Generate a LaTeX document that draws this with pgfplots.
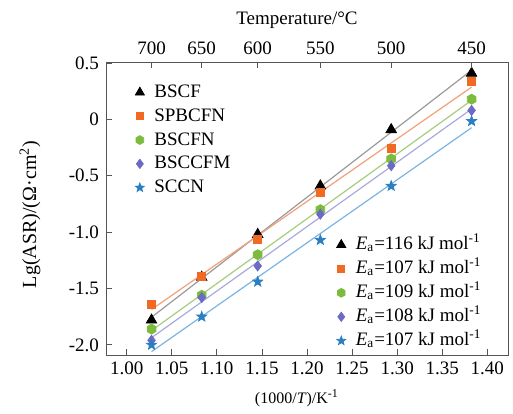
\documentclass[border=0pt]{standalone}
\usepackage{pgfplots}
\pgfplotsset{compat=1.18}
\usepackage{fontspec}
\setmainfont{Liberation Serif}
\definecolor{cor}{HTML}{F06A24}
\definecolor{cgr}{HTML}{7CBB3E}
\definecolor{cpu}{HTML}{6B6BC4}
\definecolor{cbl}{HTML}{2B7EC1}
\definecolor{lgy}{HTML}{9A9A9A}
\definecolor{lor}{HTML}{F2A07A}
\definecolor{lgr}{HTML}{A6CC7E}
\definecolor{lpu}{HTML}{A9A9DD}
\definecolor{lbl}{HTML}{7DB3E0}
\definecolor{axc}{HTML}{555555}
\pgfdeclareplotmark{hexa*}{%
  \pgfpathmoveto{\pgfpointpolar{90}{\pgfplotmarksize}}%
  \pgfpathlineto{\pgfpointpolar{150}{\pgfplotmarksize}}%
  \pgfpathlineto{\pgfpointpolar{210}{\pgfplotmarksize}}%
  \pgfpathlineto{\pgfpointpolar{270}{\pgfplotmarksize}}%
  \pgfpathlineto{\pgfpointpolar{330}{\pgfplotmarksize}}%
  \pgfpathlineto{\pgfpointpolar{30}{\pgfplotmarksize}}%
  \pgfpathclose\pgfusepathqfillstroke}
\pgfdeclareplotmark{fstar}{%
  \pgfpathmoveto{\pgfpointpolar{90}{\pgfplotmarksize}}%
  \pgfpathlineto{\pgfpointpolar{126}{0.42\pgfplotmarksize}}%
  \pgfpathlineto{\pgfpointpolar{162}{\pgfplotmarksize}}%
  \pgfpathlineto{\pgfpointpolar{198}{0.42\pgfplotmarksize}}%
  \pgfpathlineto{\pgfpointpolar{234}{\pgfplotmarksize}}%
  \pgfpathlineto{\pgfpointpolar{270}{0.42\pgfplotmarksize}}%
  \pgfpathlineto{\pgfpointpolar{306}{\pgfplotmarksize}}%
  \pgfpathlineto{\pgfpointpolar{342}{0.42\pgfplotmarksize}}%
  \pgfpathlineto{\pgfpointpolar{18}{\pgfplotmarksize}}%
  \pgfpathlineto{\pgfpointpolar{54}{0.42\pgfplotmarksize}}%
  \pgfpathclose\pgfusepathqfillstroke}
\pgfplotsset{base/.style={scale only axis, width=201pt, height=146.5pt,
  xmin=0.977, xmax=1.423, ymin=-2.09, ymax=0.51,
  font=\fontsize{9.5}{11}\selectfont,
  /pgf/number format/assume math mode=true},
  legstyle/.style={legend style={draw=none, fill=none, inner sep=0pt,
    font=\fontsize{9.5}{11}\selectfont,
    nodes={inner sep=0.5pt, text height=7.5pt, text depth=2.5pt},
    /tikz/every odd column/.append style={column sep=4.5pt}},
    legend cell align=left}}
\begin{document}
\begin{tikzpicture}
\begin{axis}[base,
  axis line style={axc}, tick style={axc, thin}, major tick length=3pt, tick align=inside,
  xtick={1.00,1.05,1.10,1.15,1.20,1.25,1.30,1.35,1.40},
  xticklabel style={/pgf/number format/.cd, fixed, fixed zerofill, precision=2},
  xtick pos=bottom, ytick pos=left,
  ytick={-2,-1.5,-1,-0.5,0,0.5},
  yticklabels={-2.0,-1.5,-1.0,-0.5,0,0.5},
  xlabel={\fontsize{8}{9}\selectfont(1000/\textit{T})/K\textsuperscript{-1}},
  xlabel style={at={(axis description cs:0.475,-0.147)}, anchor=center},
  ylabel={\fontsize{10}{12}\selectfont Lg(ASR)/(Ω·cm\textsuperscript{2})},
  ylabel style={at={(axis description cs:-0.189,0.48)}, anchor=center},
  ]
\coordinate (bl) at (rel axis cs:-0.2637,-0.1911);
\coordinate (tr) at (rel axis cs:1.0124,1.2116);
% fitted lines
\addplot[lgy, line width=0.6pt] coordinates {(1.0275,-1.755) (1.3826,0.437)};
\addplot[lor, line width=0.6pt] coordinates {(1.0275,-1.686) (1.3826,0.287)};
\addplot[lgr, line width=0.6pt] coordinates {(1.0275,-1.873) (1.3826,0.170)};
\addplot[lpu, line width=0.6pt] coordinates {(1.0275,-1.937) (1.3826,0.093)};
\addplot[lbl, line width=0.6pt] coordinates {(1.0275,-2.060) (1.3826,-0.073)};
% data
\addplot[only marks, mark=triangle*, mark size=3pt, black] coordinates {
 (1.0275,-1.78) (1.0832,-1.40) (1.1453,-1.02) (1.2148,-0.59) (1.2934,-0.09) (1.3826,0.41)};
\addplot[only marks, mark=square*, mark size=2pt, cor] coordinates {
 (1.0275,-1.64) (1.0832,-1.39) (1.1453,-1.06) (1.2148,-0.65) (1.2934,-0.26) (1.3826,0.34)};
\addplot[only marks, mark=hexa*, mark size=2.5pt, cgr] coordinates {
 (1.0275,-1.86) (1.0832,-1.56) (1.1453,-1.20) (1.2148,-0.80) (1.2934,-0.35) (1.3826,0.18)};
\addplot[only marks, mark=diamond*, mark size=2.5pt, cpu] coordinates {
 (1.0275,-1.96) (1.0832,-1.58) (1.1453,-1.30) (1.2148,-0.84) (1.2934,-0.41) (1.3826,0.08)};
\addplot[only marks, mark=fstar, mark size=2.6pt, cbl] coordinates {
 (1.0275,-2.00) (1.0832,-1.75) (1.1453,-1.44) (1.2148,-1.07) (1.2934,-0.59) (1.3826,-0.015)};
\end{axis}
% top temperature axis
\begin{axis}[base,
  axis x line*=top, axis y line=none,
  axis line style={axc}, tick style={axc, thin}, major tick length=3pt, tick align=inside,
  xtick={1.0275,1.0832,1.1453,1.2148,1.2934,1.3826},
  xticklabels={700,650,600,550,500,450},
  xlabel={Temperature/°C},
  xlabel style={at={(axis description cs:0.475,1.143)}, anchor=center},
  ]
\addplot[draw=none] coordinates {(1.2,0)};
\end{axis}
% legend 1
\begin{axis}[base, hide axis, legstyle,
  legend style={at={(axis description cs:0.072,0.935)}, anchor=north west, row sep=0.9pt}]
\addlegendimage{only marks, mark=triangle*, mark size=2.6pt, black}
\addlegendentry{BSCF}
\addlegendimage{only marks, mark=square*, mark size=1.7pt, cor}
\addlegendentry{SPBCFN}
\addlegendimage{only marks, mark=hexa*, mark size=2.2pt, cgr}
\addlegendentry{BSCFN}
\addlegendimage{only marks, mark=diamond*, mark size=2.3pt, cpu}
\addlegendentry{BSCCFM}
\addlegendimage{only marks, mark=fstar, mark size=2.3pt, cbl}
\addlegendentry{SCCN}
\end{axis}
% legend 2
\begin{axis}[base, hide axis, legstyle,
  legend style={at={(axis description cs:0.573,0.415)}, anchor=north west, row sep=1pt}]
\addlegendimage{only marks, mark=triangle*, mark size=2.6pt, black}
\addlegendentry{\textit{E}\textsubscript{a}=116 kJ mol\textsuperscript{-1}}
\addlegendimage{only marks, mark=square*, mark size=1.7pt, cor}
\addlegendentry{\textit{E}\textsubscript{a}=107 kJ mol\textsuperscript{-1}}
\addlegendimage{only marks, mark=hexa*, mark size=2.2pt, cgr}
\addlegendentry{\textit{E}\textsubscript{a}=109 kJ mol\textsuperscript{-1}}
\addlegendimage{only marks, mark=diamond*, mark size=2.3pt, cpu}
\addlegendentry{\textit{E}\textsubscript{a}=108 kJ mol\textsuperscript{-1}}
\addlegendimage{only marks, mark=fstar, mark size=2.3pt, cbl}
\addlegendentry{\textit{E}\textsubscript{a}=107 kJ mol\textsuperscript{-1}}
\end{axis}
\path (bl) rectangle (tr);
\end{tikzpicture}
\end{document}
